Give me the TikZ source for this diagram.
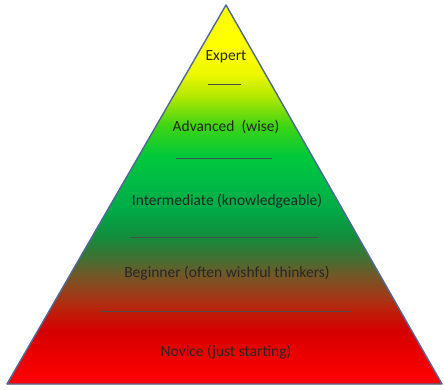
\documentclass[tikz,border=0pt]{standalone}
\usepackage{fontspec}
\setmainfont{Carlito}
\usepackage{tikz}

\definecolor{edgeblue}{RGB}{79,105,150}
% bottom of the pyramid at 25bp, apex at 75bp
\pgfdeclareverticalshading{levels}{100bp}{
  color(0bp)=(red);
  color(25bp)=(red);
  color(29bp)=(rgb,255:red,235;green,0;blue,0);
  color(32bp)=(rgb,255:red,212;green,0;blue,0);
  color(34.6bp)=(rgb,255:red,190;green,30;blue,10);
  color(36bp)=(rgb,255:red,170;green,50;blue,20);
  color(39.6bp)=(rgb,255:red,110;green,90;blue,40);
  color(41.4bp)=(rgb,255:red,70;green,110;blue,50);
  color(44.4bp)=(rgb,255:red,20;green,140;blue,60);
  color(48bp)=(rgb,255:red,0;green,170;blue,70);
  color(51.5bp)=(rgb,255:red,0;green,185;blue,70);
  color(55bp)=(rgb,255:red,0;green,200;blue,60);
  color(59bp)=(rgb,255:red,60;green,212;blue,20);
  color(63bp)=(rgb,255:red,180;green,232;blue,0);
  color(66bp)=(rgb,255:red,238;green,248;blue,0);
  color(69bp)=(yellow);
  color(100bp)=(yellow)}

\begin{document}
\begin{tikzpicture}[x=1pt,y=-1pt,
  level/.style={font=\fontsize{15.5}{18}\selectfont, text=black!85},
  divider/.style={draw=black!70, line width=0.6pt}]
  \useasboundingbox (0,0) rectangle (444,389);
  % pyramid
  \coordinate (apex) at (226,5);
  \coordinate (bl) at (7,384);
  \coordinate (br) at (442,384);
  \fill[shading=levels] (apex) -- (br) -- (bl) -- cycle;
  \draw[edgeblue, line width=1.4pt, line join=round] (apex) -- (br) -- (bl) -- cycle;
  % levels
  \node[level] (expert) at (226,57) {Expert};
  \node[level] (advanced) at (226,127) {Advanced\ \ (wise)};
  \node[level] (inter) at (227,201) {Intermediate (knowledgeable)};
  \node[level] (begin) at (227,273) {Beginner (often wishful thinkers)};
  \node[level] (novice) at (226,352) {Novice (just starting)};
  % dividers
  \draw[divider] (208,84) -- (241,84);
  \draw[divider] (176,158) -- (272,158);
  \draw[divider] (131,237) -- (319,237);
  \draw[divider] (100,311) -- (351,311);
\end{tikzpicture}
\end{document}
